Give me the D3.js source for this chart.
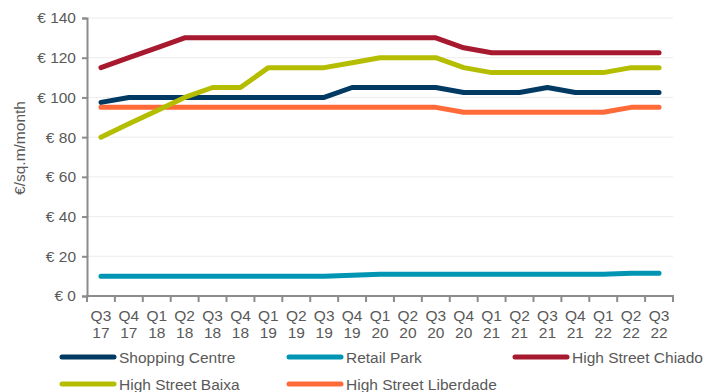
<!DOCTYPE html>
<html>
<head>
<meta charset="utf-8">
<script src="https://cdn.jsdelivr.net/npm/d3@7"></script>
<style>
  html, body { margin: 0; padding: 0; background: #fff; }
  svg { display: block; font-family: "Liberation Sans", Arial, sans-serif; }
</style>
</head>
<body>
<svg id="chart" width="707" height="392"></svg>
<script>
const quarters = ["Q3","Q4","Q1","Q2","Q3","Q4","Q1","Q2","Q3","Q4","Q1","Q2","Q3","Q4","Q1","Q2","Q3","Q4","Q1","Q2","Q3"];
const years    = ["17","17","18","18","18","18","19","19","19","19","20","20","20","20","21","21","21","21","22","22","22"];

const shoppingCentre   = [97.5,100,100,100,100,100,100,100,100,105,105,105,105,102.5,102.5,102.5,105,102.5,102.5,102.5,102.5];
const retailPark       = [10,10,10,10,10,10,10,10,10,10.5,11,11,11,11,11,11,11,11,11,11.5,11.5];
const highStreetChiado = [115,120,125,130,130,130,130,130,130,130,130,130,130,125,122.5,122.5,122.5,122.5,122.5,122.5,122.5];
const highStreetBaixa  = [80,86.7,93.3,100,105,105,115,115,115,117.5,120,120,120,115,112.5,112.5,112.5,112.5,112.5,115,115];
const highStreetLiberdade = [95,95,95,95,95,95,95,95,95,95,95,95,95,92.5,92.5,92.5,92.5,92.5,92.5,95,95];

const yTicks = [0,20,40,60,80,100,120,140];
const yTitle = "€/sq.m/month";

const seriesNames  = ["Shopping Centre","Retail Park","High Street Chiado","High Street Baixa","High Street Liberdade"];
const seriesColors = ["#003A63","#0095B3","#A6192E","#B5BD00","#FF6A39"];
const seriesValues = [shoppingCentre, retailPark, highStreetChiado, highStreetBaixa, highStreetLiberdade];

(function () {
const svg = d3.select("#chart");
const mLeft = 87, mRight = 673, mTop = 18, mBottom = 296;
const fontSize = 15.5;
const textColor = "#595959";
const axisColor = "#8c8c8c";

const x = d3.scaleBand().domain(d3.range(quarters.length)).range([mLeft, mRight]);
const y = d3.scaleLinear().domain([0, 140]).range([mBottom, mTop]);

// gridlines
svg.append("g").selectAll("line").data(yTicks.filter(d => d > 0)).join("line")
  .attr("x1", mLeft).attr("x2", mRight)
  .attr("y1", d => y(d)).attr("y2", d => y(d))
  .attr("stroke", "#ececec").attr("stroke-width", 1);

// y axis
const yAxis = svg.append("g").attr("transform", `translate(${mLeft},0)`)
  .call(d3.axisLeft(y).tickValues(yTicks).tickSize(5).tickPadding(6).tickFormat(d => "€ " + d));
yAxis.select(".domain").attr("stroke", axisColor).attr("stroke-width", 2);
yAxis.selectAll(".tick line").attr("stroke", axisColor).attr("stroke-width", 2);
yAxis.selectAll(".tick text").attr("fill", textColor).attr("font-size", fontSize)
  .attr("font-family", '"Liberation Sans", Arial, sans-serif');

// x axis
const xAxisG = svg.append("g");
xAxisG.append("line").attr("x1", mLeft - 1).attr("x2", mRight + 1).attr("y1", mBottom).attr("y2", mBottom)
  .attr("stroke", axisColor).attr("stroke-width", 2);
const boundaries = d3.range(quarters.length + 1).map(i => i < quarters.length ? x(i) : x(i - 1) + x.bandwidth());
xAxisG.selectAll("line.tk").data(boundaries).join("line").attr("class", "tk")
  .attr("x1", d => d).attr("x2", d => d).attr("y1", mBottom).attr("y2", mBottom + 6)
  .attr("stroke", axisColor).attr("stroke-width", 2);
const xl = xAxisG.selectAll("text").data(d3.range(quarters.length)).join("text")
  .attr("x", i => x(i) + x.bandwidth() / 2)
  .attr("text-anchor", "middle").attr("fill", textColor).attr("font-size", fontSize);
xl.append("tspan").attr("x", i => x(i) + x.bandwidth() / 2).attr("y", 321).text(i => quarters[i]);
xl.append("tspan").attr("x", i => x(i) + x.bandwidth() / 2).attr("y", 338).text(i => years[i]);

// y title
svg.append("text")
  .attr("transform", `translate(25,148) rotate(-90)`)
  .attr("text-anchor", "middle").attr("fill", textColor).attr("font-size", fontSize)
  .text(yTitle);

// lines
const line = d3.line().x((d, i) => x(i) + x.bandwidth() / 2).y(d => y(d));
const drawOrder = [1, 4, 0, 3, 2];
svg.append("g").selectAll("path").data(drawOrder).join("path")
  .attr("d", k => line(seriesValues[k]))
  .attr("fill", "none").attr("stroke", k => seriesColors[k])
  .attr("stroke-width", 5).attr("stroke-linecap", "round").attr("stroke-linejoin", "round");

// legend
const legendPos = [[60, 357], [287, 357], [513, 357], [60, 384], [287, 384]];
const lg = svg.append("g").selectAll("g").data(seriesNames).join("g")
  .attr("transform", (d, i) => `translate(${legendPos[i][0]},${legendPos[i][1]})`);
lg.append("line").attr("x1", 2).attr("x2", 54).attr("y1", 0).attr("y2", 0)
  .attr("stroke", (d, i) => seriesColors[i]).attr("stroke-width", 5).attr("stroke-linecap", "round");
lg.append("text").attr("x", 59).attr("y", 5.5).attr("fill", textColor).attr("font-size", fontSize).text(d => d);
})();
</script>
</body>
</html>
